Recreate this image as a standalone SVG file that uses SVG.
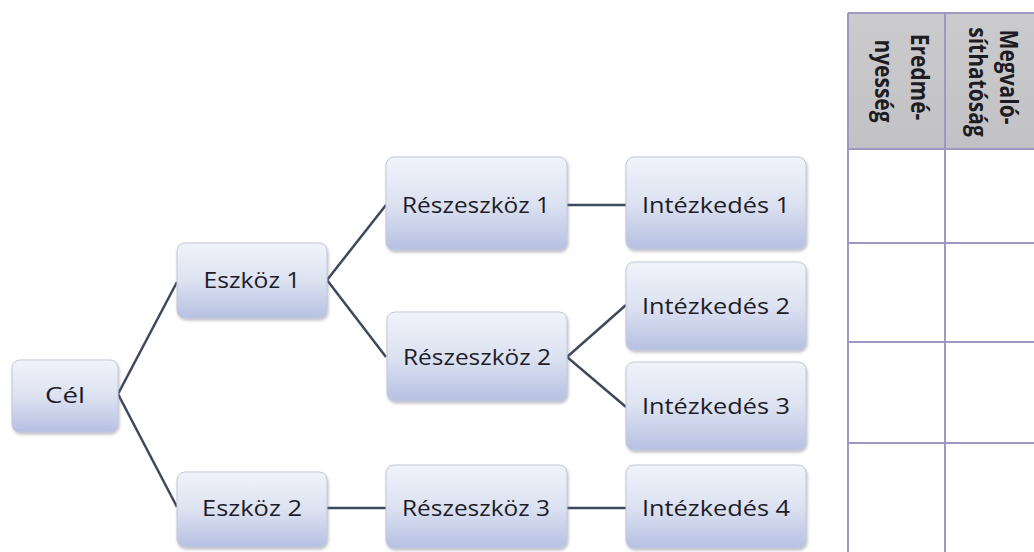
<svg xmlns="http://www.w3.org/2000/svg" width="1034" height="552" viewBox="0 0 1034 552">
  <defs>
    <linearGradient id="boxFill" x1="0" y1="0" x2="0" y2="1">
      <stop offset="0" stop-color="#f1f3fa"/>
      <stop offset="0.5" stop-color="#dde2f1"/>
      <stop offset="1" stop-color="#b6c0e2"/>
    </linearGradient>
    <linearGradient id="headFill" x1="0" y1="0" x2="0" y2="1">
      <stop offset="0" stop-color="#cbcbcd"/>
      <stop offset="1" stop-color="#c2c2c6"/>
    </linearGradient>
    <filter id="shadow" x="-10%" y="-10%" width="125%" height="130%">
      <feDropShadow dx="1" dy="2" stdDeviation="1.5" flood-color="#707080" flood-opacity="0.45"/>
    </filter>
  </defs>
  <style>
    .box { fill: url(#boxFill); stroke: #c3c8da; stroke-width: 1; filter: url(#shadow); }
    .label { font-family: "Open Sans", "Liberation Sans", sans-serif; font-size: 21px; fill: #1c1d28; text-anchor: middle; }
    .link { fill: none; stroke: #3d4a5e; stroke-width: 2.5; stroke-linejoin: miter; }
    .grid { stroke: #9c98bf; stroke-width: 2; fill: none; }
    .head { font-family: "Open Sans", "Liberation Sans", sans-serif; font-size: 21px; font-weight: bold; fill: #1c1c22; text-anchor: middle; }
  </style>

  <rect width="1034" height="552" fill="#ffffff"/>

  <!-- evaluation table -->
  <g id="table">
    <rect x="848" y="13" width="190" height="136" fill="url(#headFill)"/>
    <line class="grid" x1="848" y1="13" x2="1034" y2="13"/>
    <line class="grid" x1="848" y1="149" x2="1034" y2="149"/>
    <line class="grid" x1="848" y1="243" x2="1034" y2="243"/>
    <line class="grid" x1="848" y1="342" x2="1034" y2="342"/>
    <line class="grid" x1="848" y1="443" x2="1034" y2="443"/>
    <line class="grid" x1="848" y1="13" x2="848" y2="552"/>
    <line class="grid" x1="945" y1="13" x2="945" y2="552"/>
    <g transform="translate(1000,77) scale(1.15,1) rotate(90)"><text class="head" x="0" y="0">Megvaló-</text></g>
    <g transform="translate(969,82) scale(1.15,1) rotate(90)"><text class="head" x="0" y="0">síthatóság</text></g>
    <g transform="translate(911,77) scale(1.15,1) rotate(90)"><text class="head" x="0" y="0">Eredmé-</text></g>
    <g transform="translate(875,81) scale(1.15,1) rotate(90)"><text class="head" x="0" y="0">nyesség</text></g>
  </g>

  <!-- connectors -->
  <g id="connectors">
    <path class="link" d="M177,282 L118,394 L177,507"/>
    <path class="link" d="M386,205 L327,280 L386,357"/>
    <path class="link" d="M626,305 L567,357 L626,407"/>
    <path class="link" d="M567,205 L626,205"/>
    <path class="link" d="M327,508 L386,508"/>
    <path class="link" d="M567,508 L626,508"/>
  </g>

  <!-- nodes -->
  <g id="cel">
    <rect class="box" x="12" y="360" width="106" height="72" rx="8"/>
    <text class="label" x="65" y="403" textLength="40" lengthAdjust="spacingAndGlyphs">Cél</text>
  </g>
  <g id="eszkoz1">
    <rect class="box" x="177" y="243" width="150" height="75" rx="8"/>
    <text class="label" x="252" y="288" textLength="97" lengthAdjust="spacingAndGlyphs">Eszköz 1</text>
  </g>
  <g id="eszkoz2">
    <rect class="box" x="177" y="472" width="150" height="75" rx="8"/>
    <text class="label" x="252" y="516" textLength="100" lengthAdjust="spacingAndGlyphs">Eszköz 2</text>
  </g>
  <g id="reszeszkoz1">
    <rect class="box" x="386" y="157" width="181" height="93" rx="8"/>
    <text class="label" x="476" y="213" textLength="148" lengthAdjust="spacingAndGlyphs">Részeszköz 1</text>
  </g>
  <g id="reszeszkoz2">
    <rect class="box" x="387" y="312" width="180" height="89" rx="8"/>
    <text class="label" x="477" y="365" textLength="148" lengthAdjust="spacingAndGlyphs">Részeszköz 2</text>
  </g>
  <g id="reszeszkoz3">
    <rect class="box" x="386" y="465" width="181" height="83" rx="8"/>
    <text class="label" x="476" y="516" textLength="148" lengthAdjust="spacingAndGlyphs">Részeszköz 3</text>
  </g>
  <g id="intezkedes1">
    <rect class="box" x="626" y="157" width="180" height="92" rx="8"/>
    <text class="label" x="716" y="213" textLength="148" lengthAdjust="spacingAndGlyphs">Intézkedés 1</text>
  </g>
  <g id="intezkedes2">
    <rect class="box" x="626" y="262" width="180" height="88" rx="8"/>
    <text class="label" x="716" y="314" textLength="148" lengthAdjust="spacingAndGlyphs">Intézkedés 2</text>
  </g>
  <g id="intezkedes3">
    <rect class="box" x="626" y="362" width="180" height="88" rx="8"/>
    <text class="label" x="716" y="414" textLength="148" lengthAdjust="spacingAndGlyphs">Intézkedés 3</text>
  </g>
  <g id="intezkedes4">
    <rect class="box" x="626" y="465" width="180" height="83" rx="8"/>
    <text class="label" x="716" y="516" textLength="148" lengthAdjust="spacingAndGlyphs">Intézkedés 4</text>
  </g>
</svg>
